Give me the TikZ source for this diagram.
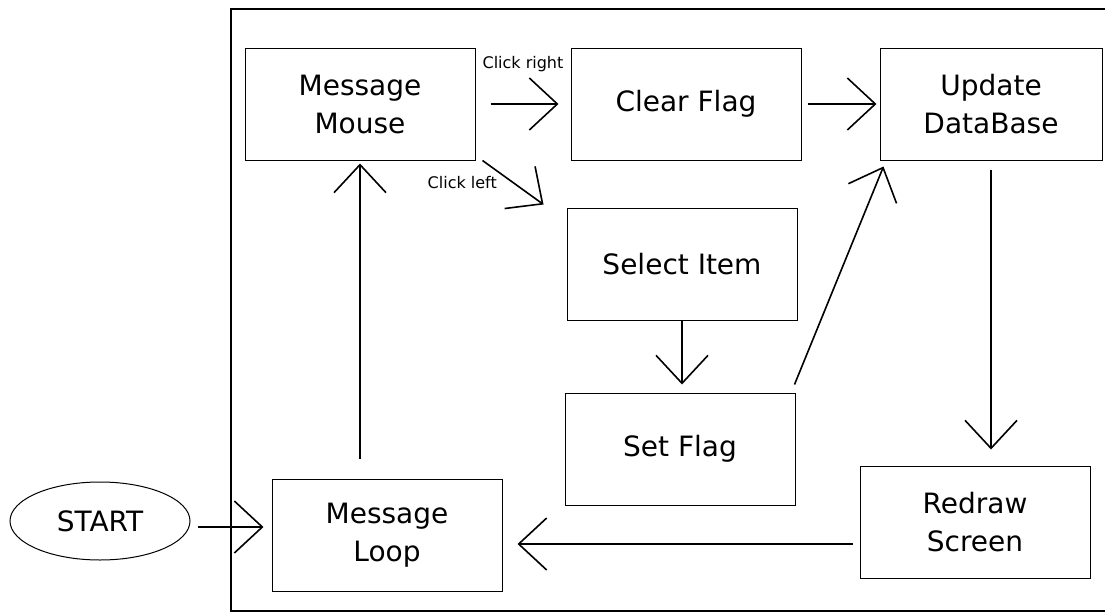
\documentclass[tikz,border=0pt]{standalone}
\usepackage{fontspec}
\setmainfont{DejaVu Sans}
\usetikzlibrary{arrows.meta,shapes.geometric}
\begin{document}
\begin{tikzpicture}
                [x=1pt,y=-1pt,
                 box/.style={draw,rectangle,line width=1pt,minimum width=230pt,minimum height=112pt,
                             align=center,font=\fontsize{28}{38}\selectfont},
                 arr/.style={line width=1.6pt,-{Straight Barb[length=28pt,width=52pt]},
                             shorten <=7pt,shorten >=8pt},
                 lbl/.style={font=\fontsize{16}{18}\selectfont}]
                \useasboundingbox (0,0) rectangle (1105,613);
                \draw[line width=1.8pt] (1105,9) -- (231,9) -- (231,611) -- (1105,611);

                \node[box] (mm) at (360,104) {Message\\Mouse};
                \node[box] (cf) at (686,104) {Clear Flag};
                \node[box,minimum width=222pt] (ud) at (991,104) {Update\\DataBase};
                \node[box] (si) at (682,264) {Select Item};
                \node[box] (sf) at (680,449) {Set Flag};
                \node[box] (rs) at (975,522) {Redraw\\Screen};
                \node[box] (ml) at (387,535) {Message\\Loop};
                \node[draw,ellipse,line width=1pt,minimum width=180pt,minimum height=78pt,
                      font=\fontsize{28}{34}\selectfont] (st) at (100,521) {START};

                \draw[arr] ([yshift=-6pt]st.east) -- ([yshift=-6pt]st.east -| ml.west);
                \draw[arr,shorten <=20pt,shorten >=3pt] (ml.north -| mm.south) -- (mm.south);
                \draw[arr,shorten <=15pt,shorten >=12pt] (mm.east) -- node[lbl,above=28pt] (cr) {Click right} (cf.west);
                \draw[arr,shorten <=0pt,shorten >=0pt] ([xshift=7pt]mm.south east)
                    -- node[lbl,left=12pt] (cl) {Click left} ([xshift=-23pt,yshift=3pt]si.north west);
                \draw[arr,shorten <=6pt,shorten >=3pt] (cf.east) -- (ud.west);
                \draw[arr,shorten <=0pt] (si.south) -- (si.south |- sf.north);
                \draw[arr,shorten <=0pt,shorten >=0pt] ([xshift=-1pt,yshift=8pt]sf.north east)
                    -- ([xshift=4pt,yshift=-6pt]ud.south west);
                \draw[arr,shorten <=9pt,shorten >=16pt] (ud.south) -- (ud.south |- rs.north);
                \draw[arr,shorten >=15pt] ([yshift=-22pt]rs.west) -- ([yshift=-22pt]rs.west -| ml.east);
            \end{tikzpicture}
\end{document}
